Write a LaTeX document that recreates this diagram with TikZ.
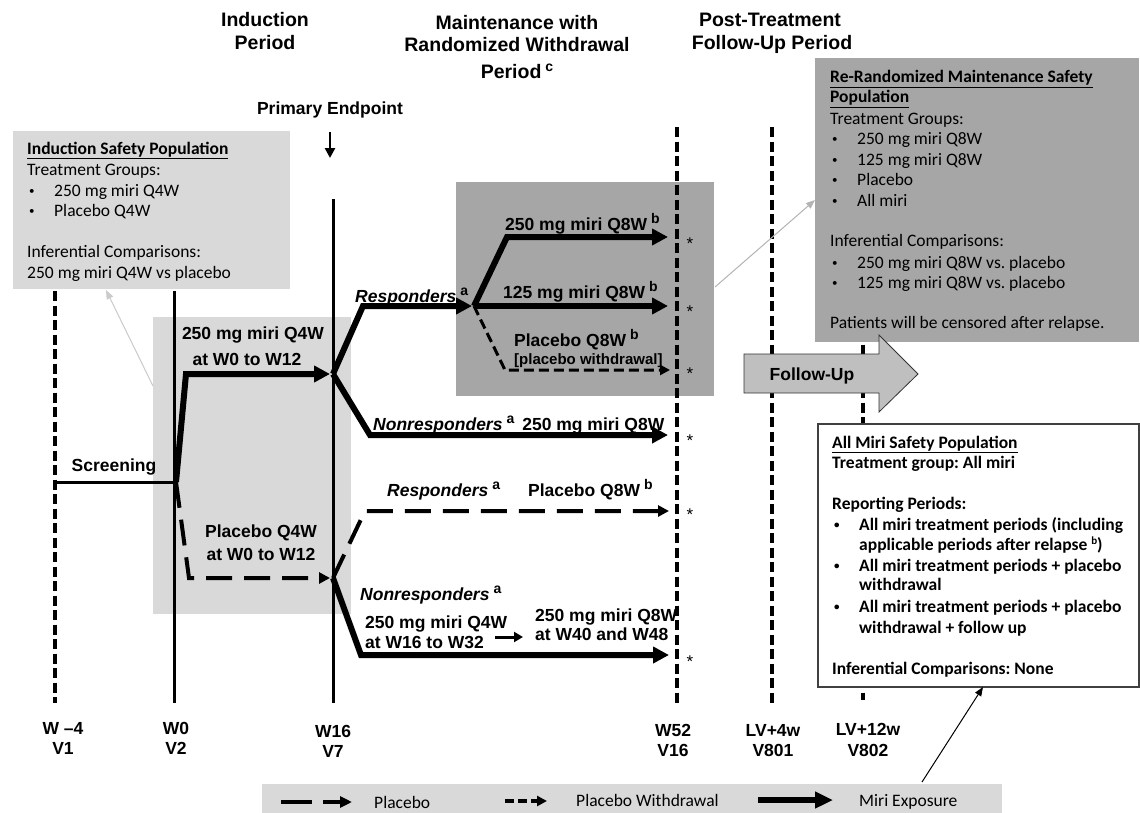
\documentclass[tikz,border=0pt]{standalone}
\usepackage{fontspec}
\setmainfont{Liberation Sans}
\newfontfamily\calfont{Carlito}
\usetikzlibrary{arrows.meta}
\frenchspacing
\definecolor{lgray}{HTML}{D9D9D9}
\definecolor{dgray}{HTML}{A6A6A6}
\definecolor{fgray}{HTML}{BFBFBF}
\definecolor{cgray}{HTML}{B4B4B4}
\newcommand\supl[1]{\hspace{4bp}\raisebox{7bp}{\fontsize{14bp}{14bp}\selectfont\bfseries\upshape #1}}
\newcommand\bul{\makebox[25bp][l]{\raisebox{2bp}{\fontsize{11bp}{11bp}\selectfont\textbullet}}}
\begin{document}
\begin{tikzpicture}[x=1bp,y=-1bp,
  lbl/.style={inner sep=0pt, anchor=base west, font=\fontsize{17.5bp}{21bp}\selectfont\bfseries},
  lblc/.style={lbl, anchor=base},
  hd/.style={inner sep=0pt, anchor=base, font=\fontsize{19.5bp}{23bp}\selectfont\bfseries},
  bt/.style={inner sep=0pt, anchor=base west, font=\calfont\fontsize{17.5bp}{21bp}\selectfont},
  btb/.style={inner sep=0pt, anchor=base west, font=\calfont\fontsize{17.5bp}{21bp}\selectfont\bfseries},
  ast/.style={inner sep=0pt, anchor=base, font=\fontsize{17bp}{20bp}\selectfont},
  boxn/.style={inner sep=0pt, anchor=north west, draw=none},
  miri/.style={line width=6bp, -{Triangle[length=16bp,width=16bp]}},
  plac/.style={line width=4bp, dash pattern=on 26bp off 12bp, -{Triangle[length=11bp,width=11bp]}},
  pwd/.style={line width=3bp, dash pattern=on 10bp off 5bp, -{Triangle[length=10bp,width=10bp]}},
  tls/.style={line width=3bp},
  tld/.style={line width=3.5bp, dash pattern=on 10bp off 4.5bp},
  thinarr/.style={line width=1bp, -{Triangle[length=9bp,width=7bp]}},
]
\useasboundingbox (0,0) rectangle (1140,813);

% ---------- background boxes ----------
\node[boxn, fill=lgray, minimum width=277.5bp, minimum height=158bp] (indbox) at (12.5,131) {};
\node[boxn, fill=lgray, minimum width=198bp, minimum height=297bp] (lgbox) at (153,317) {};
\node[boxn, fill=dgray, minimum width=258bp, minimum height=214bp] (mbox) at (456,182) {};

% ---------- timeline lines ----------
\coordinate (tA1) at (55,291);  \coordinate (tA2) at (55,703);
\coordinate (tB1) at (174,291); \coordinate (tB2) at (174,703);
\coordinate (tC1) at (333,199); \coordinate (tC2) at (333,703);
\coordinate (tD1) at (677,127); \coordinate (tD2) at (677,703);
\coordinate (tE1) at (772,127); \coordinate (tE2) at (772,703);
\coordinate (tF1) at (863,127); \coordinate (tF2) at (863,700);
\draw[tld] (tA1) -- (tA2);
\draw[tls] (tB1) -- (tB2);
\draw[tls] (tC1) -- (tC2);
\draw[tld] (tD1) -- (tD2);
\draw[tld] (tE1) -- (tE2);
\draw[tld] (tF1) -- (tF2);

% ---------- right boxes ----------
\node[boxn, fill=dgray, minimum width=324bp, minimum height=284bp] (rrbox) at (815,58) {};
\node[boxn, fill=white, draw={black!75}, line width=1.5bp, minimum width=321bp, minimum height=263bp] (ambox) at (817,423) {};

% follow-up block arrow
\draw[fill=fgray, draw={black!80}, line width=0.8bp]
  (744,354) -- (879,354) -- (879,335) -- (918,374) -- (879,412) -- (879,393) -- (744,393) -- cycle;
\node[lblc] (fu) at (812,380) {Follow-Up};

% ---------- headings ----------
\node[hd] (h1a) at (265,27) {Induction};
\node[hd] (h1b) at (265,50) {Period};
\node[hd] (h2a) at (517,30) {Maintenance with};
\node[hd] (h2b) at (517,52) {Randomized Withdrawal};
\node[hd] (h2c) at (517,79) {Period\supl{c}};
\node[hd] (h3a) at (770,27) {Post-Treatment};
\node[hd] (h3b) at (772,50) {Follow-Up Period};
\node[lblc] (pe) at (330,114) {Primary Endpoint};
\coordinate (pe1) at (330,132); \coordinate (pe2) at (330,158);
\draw[line width=2.5bp, -{Triangle[length=10bp,width=10bp]}] (pe1) -- (pe2);

% ---------- induction box text ----------
\node[btb] (ib0) at (27,154) {\underline{Induction Safety Population}};
\node[bt] (ib1) at (27,175) {Treatment Groups:};
\node[bt] (ib2) at (29,196) {\bul 250 mg miri Q4W};
\node[bt] (ib3) at (29,216) {\bul Placebo Q4W};
\node[bt] (ib4) at (27,257) {Inferential Comparisons:};
\node[bt] (ib5) at (27,278) {250 mg miri Q4W vs placebo};

% ---------- re-randomized box text ----------
\node[btb] (rb0) at (830,83) {\underline{Re-Randomized Maintenance Safety}};
\node[btb] (rb1) at (830,103) {\underline{Population}};
\node[bt] (rb2) at (830,124) {Treatment Groups:};
\node[bt] (rb3) at (832,144) {\bul 250 mg miri Q8W};
\node[bt] (rb4) at (832,165) {\bul 125 mg miri Q8W};
\node[bt] (rb5) at (832,185) {\bul Placebo};
\node[bt] (rb6) at (832,206) {\bul All miri};
\node[bt] (rb7) at (830,246) {Inferential Comparisons:};
\node[bt] (rb8) at (832,268) {\bul 250 mg miri Q8W vs. placebo};
\node[bt] (rb9) at (832,288) {\bul 125 mg miri Q8W vs. placebo};
\node[bt] (rb10) at (830,328) {Patients will be censored after relapse.};

% ---------- all miri box text ----------
\node[btb] (ab0) at (832,448) {\underline{All Miri Safety Population}};
\node[btb] (ab1) at (832,468) {Treatment group: All miri};
\node[btb] (ab2) at (832,509) {Reporting Periods:};
\node[btb] (ab3) at (834,530) {\bul All miri treatment periods (including};
\node[btb] (ab4) at (859,550) {applicable periods after relapse \raisebox{6bp}{\fontsize{11bp}{11bp}\selectfont b})};
\node[btb] (ab5) at (834,571) {\bul All miri treatment periods + placebo};
\node[btb] (ab6) at (859,590) {withdrawal};
\node[btb] (ab7) at (834,612) {\bul All miri treatment periods + placebo};
\node[btb] (ab8) at (859,633) {withdrawal + follow up};
\node[btb] (ab9) at (832,674) {Inferential Comparisons: None};

% ---------- screening ----------
\coordinate (scr1) at (55,482); \coordinate (scr2) at (174,482);
\draw[tls] (scr1) -- (scr2);
\node[lblc] (scr) at (114,471) {Screening};

% ---------- induction arms ----------
\coordinate (j0) at (176,482);
\coordinate (i1) at (186,374); \coordinate (i1t) at (330,374);
\coordinate (i2) at (189,578); \coordinate (i2t) at (330,578);
\draw[miri] (j0) -- (i1) -- (i1t);
\draw[plac] (j0) -- (i2) -- (i2t);
\node[lblc] (l1a) at (253,339) {250 mg miri Q4W};
\node[lblc] (l1b) at (247,365) {at W0 to W12};
\node[lblc] (l2a) at (261,537) {Placebo Q4W};
\node[lblc] (l2b) at (261,560) {at W0 to W12};

% ---------- maintenance arms ----------
\coordinate (ja) at (333,374);
\coordinate (jb) at (333,578);
\coordinate (r1) at (363,306); \coordinate (r1t) at (472,306);
\coordinate (jr) at (474,306);
\coordinate (m1) at (507,237); \coordinate (m1t) at (668,237);
\coordinate (m2t) at (668,306);
\coordinate (m3) at (505,370); \coordinate (m3t) at (670,370);
\coordinate (n1) at (370,435); \coordinate (n1t) at (668,435);
\coordinate (p1) at (365,511); \coordinate (p1t) at (669,511);
\coordinate (q1) at (361,655); \coordinate (q1t) at (669,655);
\draw[miri] (ja) -- (r1) -- (r1t);
\draw[miri] (jr) -- (m1) -- (m1t);
\draw[miri] (jr) -- (m2t);
\draw[pwd] (jr) -- (m3) -- (m3t);
\draw[miri] (ja) -- (n1) -- (n1t);
\draw[plac] (jb) -- (p1) -- (p1t);
\draw[miri] (jb) -- (q1) -- (q1t);

\node[lbl] (lr) at (355,302) {\textit{Responders}\supl{a}};
\node[lbl] (lm1) at (505,230) {250 mg miri Q8W\supl{b}};
\node[lbl] (lm2) at (503,298) {125 mg miri Q8W\supl{b}};
\node[lbl] (lm3) at (514,346) {Placebo Q8W\supl{b}};
\node[lbl, font=\fontsize{15bp}{18bp}\selectfont\bfseries] (lm3b) at (514,364) {[placebo withdrawal]};
\node[lbl] (ln1) at (373,430) {\textit{Nonresponders}\supl{a}\hspace{8bp}250 mg miri Q8W};
\node[lbl] (lr2) at (387,496) {\textit{Responders}\supl{a}};
\node[lbl] (lp2) at (528,496) {Placebo Q8W\supl{b}};
\node[lbl] (ln2) at (360,600) {\textit{Nonresponders}\supl{a}};
\node[lbl] (lq1) at (365,628) {250 mg miri Q4W};
\node[lbl] (lq2) at (365,648) {at W16 to W32};
\node[lbl] (lq3) at (535,621) {250 mg miri Q8W};
\node[lbl] (lq4) at (535,640) {at W40 and W48};
\coordinate (sa1) at (495,637); \coordinate (sa2) at (523,637);
\draw[line width=3bp, -{Triangle[length=9bp,width=10bp]}] (sa1) -- (sa2);

% asterisks
\node[ast] (s1) at (690,249) {*};
\node[ast] (s2) at (690,317) {*};
\node[ast] (s3) at (690,379) {*};
\node[ast] (s4) at (690,446) {*};
\node[ast] (s5) at (690,520) {*};
\node[ast] (s6) at (690,667) {*};

% ---------- gray connectors ----------
\coordinate (g1s) at (153,386); \coordinate (g1e) at (106,290);
\draw[thinarr, draw=cgray!70, fill=cgray!70] (g1s) -- (g1e);
\coordinate (g2s) at (715,287); \coordinate (g2e) at (815,200);
\draw[thinarr, draw=cgray, fill=cgray] (g2s) -- (g2e);

% ---------- bottom labels ----------
\node[lblc] (w1) at (63,734) {W –4};  \node[lblc] (v1) at (63,754) {V1};
\node[lblc] (w2) at (176,734) {W0};   \node[lblc] (v2) at (176,754) {V2};
\node[lblc] (w3) at (333,737) {W16};  \node[lblc] (v3) at (333,757) {V7};
\node[lblc] (w4) at (673,736) {W52};  \node[lblc] (v4) at (673,756) {V16};
\node[lblc] (w5) at (773,736) {LV+4w}; \node[lblc] (v5) at (773,756) {V801};
\node[lblc] (w6) at (868,735) {LV+12w}; \node[lblc] (v6) at (868,756) {V802};

% ---------- legend ----------
\node[boxn, fill=lgray, minimum width=740bp, minimum height=29bp] (legbox) at (262,784) {};
\coordinate (lg1a) at (281,802); \coordinate (lg1b) at (352,802);
\draw[line width=4bp, dash pattern=on 31bp off 11bp, -{Triangle[length=12bp,width=11bp]}] (lg1a) -- (lg1b);
\node[bt] (lgt1) at (374,808) {Placebo};
\coordinate (lg2a) at (505,801); \coordinate (lg2b) at (547,801);
\draw[line width=3.5bp, dash pattern=on 9bp off 4bp, -{Triangle[length=10bp,width=10bp]}] (lg2a) -- (lg2b);
\node[bt] (lgt2) at (576,806) {Placebo Withdrawal};
\coordinate (lg3a) at (758,800); \coordinate (lg3b) at (833,800);
\draw[line width=6bp, -{Triangle[length=18bp,width=16bp]}] (lg3a) -- (lg3b);
\node[bt] (lgt3) at (859,806) {Miri Exposure};

\coordinate (ua1) at (922,782); \coordinate (ua2) at (983,687);
\draw[thinarr] (ua1) -- (ua2);
\end{tikzpicture}
\end{document}
